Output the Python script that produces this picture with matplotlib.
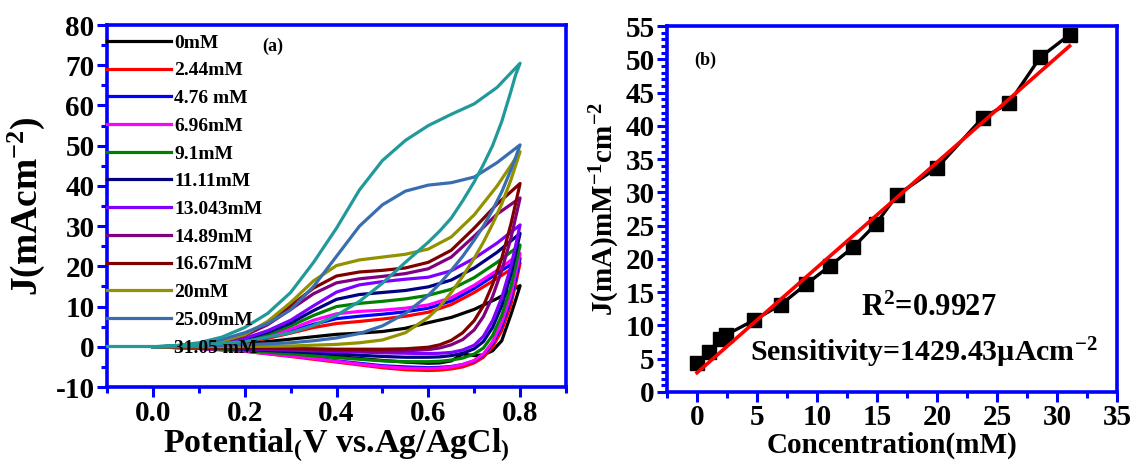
import matplotlib
matplotlib.use("Agg")
import matplotlib.pyplot as plt
from matplotlib.ticker import MultipleLocator

plt.rcParams['font.family'] = ['Liberation Serif', 'DejaVu Serif']
plt.rcParams['font.weight'] = 'bold'
plt.rcParams['axes.labelweight'] = 'bold'
plt.rcParams['axes.unicode_minus'] = False
plt.rcParams['mathtext.fontset'] = 'custom'
plt.rcParams['mathtext.rm'] = 'Liberation Serif:bold'
plt.rcParams['mathtext.it'] = 'Liberation Serif:bold'
plt.rcParams['mathtext.bf'] = 'Liberation Serif:bold'

# ---- panel (a): CV curves ----
labels = ['0mM', '2.44mM', '4.76 mM', '6.96mM', '9.1mM', '11.11mM', '13.043mM',
          '14.89mM', '16.67mM', '20mM', '25.09mM', '31.05 mM']
colors = ['#000000', '#ff0000', '#0000ff', '#ff00ff', '#008000', '#000080',
          '#8000ff', '#800080', '#800000', '#929200', '#3a6db0', '#21999a']

E_fwd = [0, 0.05, 0.1, 0.15, 0.2, 0.25, 0.3, 0.35, 0.4, 0.45, 0.5, 0.55, 0.6,
         0.65, 0.7, 0.75, 0.8]
E_rev = [0.8, 0.79, 0.78, 0.76, 0.74, 0.72, 0.7, 0.675, 0.65, 0.625, 0.6,
         0.55, 0.5, 0.45, 0.4, 0.35, 0.3, 0.2, 0.1, 0.0]

J_fwd = [
    [0, 0.1, 0.3, 0.6, 0.9, 1.3, 1.9, 2.5, 3.1, 3.4, 3.8, 4.6, 6.0, 7.3, 9.3, 12.0, 15.2],
    [0, 0.1, 0.4, 0.8, 1.3, 2.1, 3.4, 4.8, 5.8, 6.3, 6.9, 7.6, 8.6, 10.5, 13.5, 17.0, 20.8],
    [0, 0.1, 0.4, 0.8, 1.4, 2.4, 3.9, 5.6, 7.0, 7.6, 8.1, 8.7, 9.6, 11.4, 14.5, 18.2, 22.0],
    [0, 0.1, 0.4, 0.9, 1.5, 2.7, 4.4, 6.6, 8.2, 8.8, 9.1, 9.6, 10.4, 12.2, 15.3, 19.0, 23.2],
    [0, 0.1, 0.4, 0.9, 1.7, 3.1, 5.2, 7.8, 10.0, 10.8, 11.3, 11.9, 12.8, 14.3, 17.2, 21.0, 25.3],
    [0, 0.1, 0.5, 1.0, 1.9, 3.6, 5.9, 9.0, 11.8, 13.0, 13.5, 14.0, 14.9, 16.6, 19.6, 23.5, 28.2],
    [0, 0.1, 0.5, 1.1, 2.1, 4.0, 6.6, 10.2, 13.6, 15.4, 16.2, 16.8, 17.3, 18.9, 22.0, 25.8, 30.3],
    [0, 0.1, 0.5, 1.3, 2.8, 5.5, 9.3, 13.2, 15.9, 16.9, 17.5, 18.2, 19.4, 22.3, 27.5, 33.0, 37.0],
    [0, 0.1, 0.5, 1.4, 3.0, 6.0, 10.2, 14.6, 17.6, 18.6, 19.0, 19.6, 21.0, 24.0, 29.5, 35.5, 40.6],
    [0, 0.1, 0.5, 1.4, 3.0, 6.3, 11.0, 16.4, 20.2, 21.6, 22.3, 23.0, 24.3, 27.3, 32.8, 40.0, 48.5],
    [0, 0.2, 0.8, 1.8, 3.5, 5.8, 9.2, 15.0, 22.5, 30.0, 35.3, 38.7, 40.2, 40.8, 42.2, 45.8, 50.2],
    [0, 0.3, 1.0, 2.4, 4.8, 8.3, 13.5, 21.0, 29.5, 39.0, 46.3, 51.3, 55.0, 57.8, 60.4, 64.5, 70.5],
]
J_rev = [
    [15.2, 11.5, 8.0, 1.5, -1.0, -2.0, -2.2, -1.8, -3.5, -4.0, -4.1, -3.8, -3.4, -2.9, -2.4, -1.9, -1.4, -0.7, -0.3, 0],
    [20.8, 15.5, 10.5, 4.0, 0.0, -2.6, -4.0, -5.0, -5.5, -5.8, -5.9, -5.7, -5.2, -4.5, -3.8, -3.1, -2.4, -1.1, -0.4, 0],
    [22.0, 16.8, 12.0, 5.2, 0.8, -2.0, -3.5, -4.4, -4.9, -5.1, -5.2, -5.0, -4.7, -4.1, -3.5, -2.8, -2.2, -1.0, -0.4, 0],
    [23.2, 18.0, 13.0, 6.0, 1.2, -1.8, -3.4, -4.4, -5.0, -5.3, -5.4, -5.3, -4.9, -4.3, -3.6, -2.9, -2.3, -1.1, -0.4, 0],
    [25.3, 20.0, 15.0, 7.8, 2.8, -0.3, -1.8, -2.8, -3.3, -3.6, -3.7, -3.7, -3.5, -3.1, -2.7, -2.2, -1.8, -0.9, -0.3, 0],
    [28.2, 23.0, 18.0, 10.2, 4.8, 1.3, -0.5, -1.6, -2.2, -2.5, -2.6, -2.6, -2.4, -2.1, -1.8, -1.5, -1.2, -0.6, -0.2, 0],
    [30.3, 25.0, 20.0, 12.2, 6.5, 2.6, 0.4, -0.8, -1.4, -1.6, -1.7, -1.6, -1.5, -1.3, -1.2, -1.0, -0.8, -0.5, -0.2, 0],
    [37.0, 32.0, 27.0, 19.0, 12.5, 7.5, 4.2, 1.8, 0.5, -0.3, -0.7, -1.0, -1.1, -1.0, -0.9, -0.8, -0.6, -0.4, -0.2, 0],
    [40.6, 35.5, 30.5, 22.0, 15.5, 10.2, 6.5, 3.5, 1.6, 0.5, -0.1, -0.5, -0.6, -0.6, -0.6, -0.5, -0.4, -0.3, -0.1, 0],
    [48.5, 45.0, 41.5, 35.5, 30.5, 26.0, 22.0, 17.5, 13.5, 10.0, 7.3, 3.5, 1.7, 1.0, 0.6, 0.4, 0.2, 0.1, 0.0, 0],
    [50.2, 47.0, 44.0, 38.5, 34.0, 30.0, 26.5, 22.5, 19.0, 15.7, 12.8, 8.3, 5.2, 3.3, 2.2, 1.5, 1.0, 0.5, 0.2, 0],
    [70.5, 67.5, 63.5, 56.0, 50.0, 45.3, 41.0, 36.3, 32.0, 28.8, 26.0, 21.0, 15.8, 11.3, 7.8, 5.3, 3.5, 1.3, 0.4, 0],
]

# ---- panel (b): calibration ----
conc = [0, 1.0, 1.9, 2.44, 4.76, 6.96, 9.1, 11.11, 13.04, 14.89, 16.67, 20.0,
        23.8, 26.0, 28.6, 31.05]
j_conc = [4.3, 6.0, 8.0, 8.6, 10.8, 13.1, 16.2, 19.0, 21.8, 25.2, 29.6, 33.7,
          41.2, 43.4, 50.3, 53.7]
fit_x = [0, 31.05]
fit_y = [2.9, 52.0]

BLUE = '#0000ff'


def style_axes(ax):
    for s in ax.spines.values():
        s.set_color(BLUE)
        s.set_linewidth(2.6)
    ax.tick_params(which='both', direction='out', color=BLUE, width=2.2,
                   top=False, right=False, labelsize=21, pad=2)
    ax.tick_params(which='major', length=7)
    ax.tick_params(which='minor', length=4)
    for lab in ax.get_xticklabels() + ax.get_yticklabels():
        lab.set_fontweight('bold')


fig = plt.figure(figsize=(11.34, 4.65), dpi=100)
ax1 = fig.add_axes([0.0944, 0.1677, 0.4047, 0.7785])
ax2 = fig.add_axes([0.5882, 0.157, 0.3968, 0.787])

for i in range(len(labels)):
    ax1.plot(E_fwd + E_rev, J_fwd[i] + J_rev[i], color=colors[i], lw=2.3,
             label=labels[i], solid_joinstyle='round')

ax1.set_xlim(-0.1, 0.9)
ax1.set_ylim(-10, 80)
ax1.xaxis.set_major_locator(MultipleLocator(0.2))
ax1.xaxis.set_minor_locator(MultipleLocator(0.1))
ax1.yaxis.set_major_locator(MultipleLocator(10))
ax1.yaxis.set_minor_locator(MultipleLocator(5))
ax1.set_xticks([0.0, 0.2, 0.4, 0.6, 0.8])
ax1.set_xticklabels(['0.0', '0.2', '0.4', '0.6', '0.8'])
style_axes(ax1)
ax1.set_xlabel(r'Potential$_{(}$V vs.Ag/AgCl$_{)}$', fontsize=24.5, labelpad=0)
ax1.set_ylabel(r'J(mAcm$^{-2}$)', fontsize=27, labelpad=6)
ax1.text(0.36, 0.94, '(a)', transform=ax1.transAxes, fontsize=13,
         ha='center', va='center')
ax1.legend(loc='upper left', bbox_to_anchor=(0.0, 0.975), frameon=False,
           borderaxespad=0, borderpad=0, handlelength=3.3, handletextpad=0.15,
           labelspacing=0.52, prop={'family': 'Liberation Serif',
                                    'weight': 'bold', 'size': 14})

ax2.plot(conc, j_conc, 'k-s', lw=2.4, ms=9.5, zorder=2)
ax2.plot(fit_x, fit_y, color='#ff0000', lw=2.6, zorder=3)
ax2.set_xlim(-2.5, 35)
ax2.set_ylim(0, 55)
ax2.xaxis.set_major_locator(MultipleLocator(5))
ax2.xaxis.set_minor_locator(MultipleLocator(2.5))
ax2.yaxis.set_major_locator(MultipleLocator(5))
ax2.yaxis.set_minor_locator(MultipleLocator(1))
style_axes(ax2)
ax2.set_xlabel('Concentration(mM)', fontsize=21, labelpad=0)
ax2.set_ylabel(r'J(mA)mM$^{-1}$cm$^{-2}$', fontsize=21, labelpad=2)
ax2.text(0.085, 0.905, '(b)', transform=ax2.transAxes, fontsize=13,
         ha='center', va='center')
ax2.text(19.3, 12.6, r'R$^{2}$=0.9927', fontsize=22, ha='center', va='center')
ax2.text(18.9, 5.9, r'Sensitivity=1429.43µAcm$^{-2}$', fontsize=21.5,
         ha='center', va='center')

fig.savefig('out.png', dpi=100)
